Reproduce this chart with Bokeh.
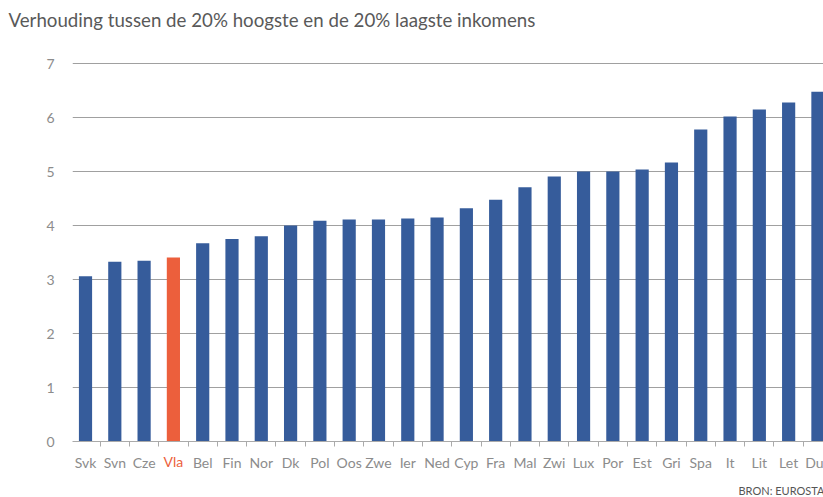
from bokeh.plotting import figure
from bokeh.models import Range1d, FixedTicker, Title, ColumnDataSource, LinearAxis
from bokeh.embed import file_html
from bokeh.resources import INLINE

countries = ["Svk", "Svn", "Cze", "Vla", "Bel", "Fin", "Nor", "Dk", "Pol", "Oos",
             "Zwe", "Ier", "Ned", "Cyp", "Fra", "Mal", "Zwi", "Lux", "Por", "Est",
             "Gri", "Spa", "It", "Lit", "Let", "Du"]
values = [3.06, 3.33, 3.35, 3.41, 3.67, 3.75, 3.80, 4.00, 4.09, 4.11,
          4.11, 4.13, 4.15, 4.32, 4.48, 4.71, 4.91, 5.00, 5.00, 5.04,
          5.17, 5.78, 6.02, 6.15, 6.28, 6.48]
highlight = "Vla"
y_ticks = [0, 1, 2, 3, 4, 5, 6, 7]
title_text = "Verhouding tussen de 20% hoogste en de 20% laagste inkomens"
source_text = "BRON: EUROSTAT"

BLUE = "#365c9b"
ORANGE = "#ec5f3c"
GRAY = "#8c8c8c"

xs = list(range(len(countries)))
hi = countries.index(highlight)
colors = [ORANGE if c == highlight else BLUE for c in countries]
src = ColumnDataSource(dict(x=xs, top=values, color=colors))

p = figure(width=823, height=497, output_backend="svg", toolbar_location=None,
           x_range=Range1d(-0.444, 25.19), y_range=Range1d(0, 7.02),
           min_border_left=72, min_border_right=0, min_border_top=62,
           min_border_bottom=56, outline_line_color=None)

p.vbar(x="x", top="top", width=0.45, bottom=0, fill_color="color",
       line_color=None, source=src)

# x axis (all labels except the highlighted one)
p.xaxis.ticker = FixedTicker(ticks=xs, minor_ticks=[i - 0.5 for i in range(len(countries) + 1)])
p.xaxis.major_label_overrides = {i: ("" if c == highlight else c) for i, c in enumerate(countries)}
p.xaxis.major_tick_line_color = None
p.xaxis.major_tick_out = 0
p.xaxis.major_tick_in = 0
p.xaxis.minor_tick_out = 5
p.xaxis.minor_tick_in = 0
p.xaxis.minor_tick_line_color = "#aaaaaa"
p.xaxis.axis_line_color = "#aaaaaa"
p.xaxis.major_label_text_color = GRAY
p.xaxis.major_label_text_font = "Lato"
p.xaxis.major_label_text_font_size = "14px"
p.xaxis.major_label_standoff = 7

# overlaid axis carrying only the highlighted label in orange
hx = LinearAxis(ticker=FixedTicker(ticks=[hi]), major_label_overrides={hi: highlight},
                axis_line_color=None, major_tick_line_color=None,
                minor_tick_line_color=None, major_tick_out=0, major_tick_in=0,
                major_label_text_color=ORANGE, major_label_text_font="Lato",
                major_label_text_font_size="14px", major_label_standoff=-21)
p.add_layout(hx, "below")

# y axis
p.yaxis.ticker = FixedTicker(ticks=y_ticks)
p.yaxis.axis_line_color = None
p.yaxis.major_tick_line_color = None
p.yaxis.minor_tick_line_color = None
p.yaxis.major_label_text_color = GRAY
p.yaxis.major_label_text_font = "Lato"
p.yaxis.major_label_text_font_size = "14px"
p.yaxis.major_label_standoff = 12

p.xgrid.grid_line_color = None
p.ygrid.ticker = FixedTicker(ticks=[1, 2, 3, 4, 5, 6, 7])
p.ygrid.grid_line_color = "#a0a0a0"
p.ygrid.grid_line_width = 1

p.add_layout(Title(text=" ", text_font_size="1px", standoff=24), "above")
p.add_layout(Title(text=title_text, text_font="Lato", text_font_size="18.7px",
                   text_font_style="normal", text_color="#595959",
                   align="left", offset=-64, standoff=10), "above")
p.add_layout(Title(text=" ", text_font_size="1px", standoff=4), "below")
p.add_layout(Title(text=source_text, text_font="Lato", text_font_size="11px",
                   text_font_style="normal", text_color="#555555",
                   align="left", offset=666, standoff=2), "below")

open("out.html", "w").write(file_html(p, INLINE))
